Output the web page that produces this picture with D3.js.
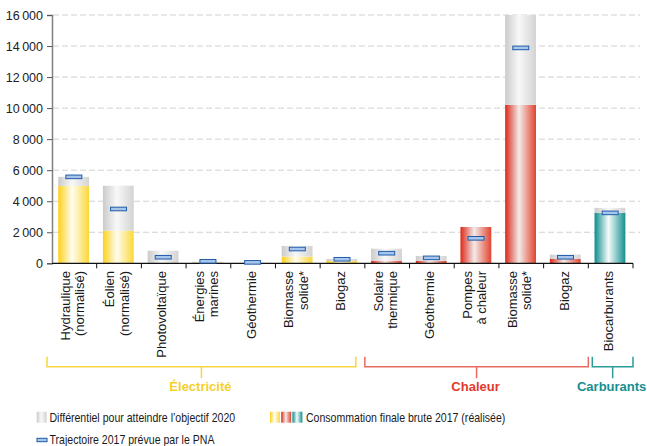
<!DOCTYPE html>
<html><head><meta charset="utf-8">
<script src="https://cdn.jsdelivr.net/npm/d3@7"></script>
<style>
body{margin:0;background:#fff}
svg{display:block;font-family:"Liberation Sans",Arial,Helvetica,sans-serif}
</style>
</head><body>
<svg id="chart" width="647" height="446"></svg>
<script>
// ---- DATA ----
const categories = ["Hydraulique (normalisé)","Éolien (normalisé)","Photovoltaïque","Énergies marines","Géothermie","Biomasse solide*","Biogaz","Solaire thermique","Géothermie","Pompes à chaleur","Biomasse solide*","Biogaz","Biocarburants"];
const labelLines = [["Hydraulique","(normalisé)"],["Éolien","(normalisé)"],["Photovoltaïque"],["Énergies","marines"],["Géothermie"],["Biomasse","solide*"],["Biogaz"],["Solaire","thermique"],["Géothermie"],["Pompes","à chaleur"],["Biomasse","solide*"],["Biogaz"],["Biocarburants"]];
const sectorOf = ["elec","elec","elec","elec","elec","elec","elec","heat","heat","heat","heat","heat","fuel"];
const realised2017 = [4990, 2100, 0, 40, 10, 430, 150, 170, 150, 2340, 10210, 280, 3260];
const objective2020 = [5570, 5000, 810, 100, 30, 1120, 280, 940, 470, 2340, 16000, 560, 3570];
const trajectory2017 = [5570, 3500, 390, 130, 60, 920, 260, 650, 350, 1610, 13880, 390, 3250];
const yTicks = [0, 2000, 4000, 6000, 8000, 10000, 12000, 14000, 16000];
const sectors = ["elec","heat","fuel"];
const sectorNames = ["Électricité","Chaleur","Carburants"];
const legendLabels = ["Différentiel pour atteindre l’objectif 2020","Consommation finale brute 2017 (réalisée)","Trajectoire 2017 prévue par le PNA"];

// ---- STYLE ----
const sectorColor = {elec:"#f6d02a", heat:"#e23a2c", fuel:"#16908f"};
const bracketColor = {elec:"#f7d643", heat:"#e96a62", fuel:"#2b9c9a"};
const grads = {
  gray:["#cbcbcb","#f8f8f8","#d3d3d3"],
  elec:["#fdd11a","#fffdf0","#fbd838"],
  heat:["#dc2819","#f3ebe9","#e1432f"],
  fuel:["#0a8c8d","#f6fbfb","#14918f"]
};

const svg = d3.select("#chart");
const defs = svg.append("defs");
Object.entries(grads).forEach(([k,c])=>{
  const g = defs.append("linearGradient").attr("id","g-"+k).attr("x1",0).attr("x2",1).attr("y1",0).attr("y2",0);
  g.append("stop").attr("offset","0%").attr("stop-color",c[0]);
  g.append("stop").attr("offset","45%").attr("stop-color",c[1]);
  g.append("stop").attr("offset","100%").attr("stop-color",c[2]);
});

const x = d3.scaleBand().domain(d3.range(categories.length)).range([52,633]).padding(0);
const y = d3.scaleLinear().domain([0,16000]).range([263.3,15]);
const bw = x.bandwidth();
const barW = bw*0.69;
const barX = i => x(i) + bw/2 - barW/2 - 0.7;

// gridlines
svg.append("g").selectAll("line").data(yTicks.filter(d=>d>0)).join("line")
  .attr("x1",53).attr("x2",640).attr("y1",d=>y(d)).attr("y2",d=>y(d))
  .attr("stroke","#d2d2d2").attr("stroke-width",1).attr("stroke-dasharray","6,3");

// bars: realised
svg.append("g").selectAll("rect").data(d3.range(categories.length)).join("rect")
  .attr("x",barX).attr("width",barW)
  .attr("y",i=>y(realised2017[i])).attr("height",i=>y(0)-y(realised2017[i]))
  .attr("fill",i=>"url(#g-"+sectorOf[i]+")");
// bars: differential
svg.append("g").selectAll("rect").data(d3.range(categories.length).filter(i=>objective2020[i]>realised2017[i])).join("rect")
  .attr("x",barX).attr("width",barW)
  .attr("y",i=>y(objective2020[i])).attr("height",i=>y(realised2017[i])-y(objective2020[i]))
  .attr("fill","url(#g-gray)");

// y axis
const yAxis = svg.append("g").attr("transform","translate(52,0)")
  .call(d3.axisLeft(y).tickValues(yTicks).tickSize(5).tickPadding(4)
    .tickFormat(d=>d3.format(",")(d).replace(",","\u202F")));
yAxis.select(".domain").attr("stroke","#808080").attr("stroke-width",1.5);
yAxis.selectAll(".tick line").attr("stroke","#555");
yAxis.selectAll("text").attr("font-size",12.5).attr("fill","#222").attr("font-family","Liberation Sans, Arial, sans-serif");

// x axis
const xAxisG = svg.append("g");
xAxisG.append("line").attr("x1",52).attr("x2",633).attr("y1",y(0)).attr("y2",y(0)).attr("stroke","#111").attr("stroke-width",1.2);
xAxisG.selectAll(".xt").data(d3.range(1,categories.length+1)).join("line").attr("class","xt")
  .attr("x1",i=>x.range()[0]+i*bw).attr("x2",i=>x.range()[0]+i*bw)
  .attr("y1",y(0)).attr("y2",y(0)+5).attr("stroke","#111");

// trajectory markers
svg.append("g").selectAll("rect").data(d3.range(categories.length)).join("rect")
  .attr("x",i=>x(i)+bw/2-8.5).attr("width",16)
  .attr("y",i=>y(trajectory2017[i])-1.8).attr("height",3.6)
  .attr("fill","#a8c6ea").attr("stroke","#1f5aa8").attr("stroke-width",1);

// x labels
const lab = svg.append("g").attr("font-size",13).attr("fill","#1a1a1a");
d3.range(categories.length).forEach(i=>{
  const lines = labelLines[i];
  const n = lines.length;
  const cx = x(i)+bw/2-2;
  lines.forEach((t,j)=>{
    const off = (j-(n-1)/2)*14.5;
    lab.append("text")
      .attr("transform",`translate(${cx+off+4.6},271) rotate(-90)`)
      .attr("text-anchor","end").text(t);
  });
});

// brackets
const bracketSpan = {elec:[-5,-9], heat:[0,0], fuel:[4,0]};
sectors.forEach((s,k)=>{
  const idx = d3.range(categories.length).filter(i=>sectorOf[i]===s);
  const x0 = x(d3.min(idx))+bracketSpan[s][0];
  const x1 = x(d3.max(idx))+bw+bracketSpan[s][1];
  const cx = (x0+x1)/2;
  const yb = 366.7;
  svg.append("path")
    .attr("d",`M${x0},${yb-10}V${yb}H${x1}V${yb-10}M${cx},${yb}V${yb+11.5}`)
    .attr("fill","none").attr("stroke",bracketColor[s]).attr("stroke-width",1.5);
  svg.append("text").attr("x",cx-1).attr("y",391).attr("text-anchor","middle")
    .attr("font-size",13).attr("font-weight","bold").attr("fill",sectorColor[s]).text(sectorNames[k]);
});

// legend
const lg = svg.append("g");
lg.append("rect").attr("x",36.7).attr("y",411.7).attr("width",10).attr("height",11).attr("fill","url(#g-gray)");
["elec","heat","fuel"].forEach((s,k)=>{
  lg.append("rect").attr("x",270+k*11.2).attr("y",411.7).attr("width",10).attr("height",11).attr("fill","url(#g-"+s+")");
});
lg.append("rect").attr("x",37).attr("y",438.3).attr("width",10).attr("height",3.4)
  .attr("fill","#a8c6ea").attr("stroke","#1f5aa8").attr("stroke-width",1);
const legText = [[49.5,422,legendLabels[0]],[306,422,legendLabels[1]],[49.5,444,legendLabels[2]]];
legText.forEach(([lx,ly,t])=>{
  lg.append("text").attr("transform",`translate(${lx},${ly}) scale(0.8,1)`)
    .attr("font-size",13.2).attr("fill","#1a1a1a").text(t);
});
</script>
</body></html>
